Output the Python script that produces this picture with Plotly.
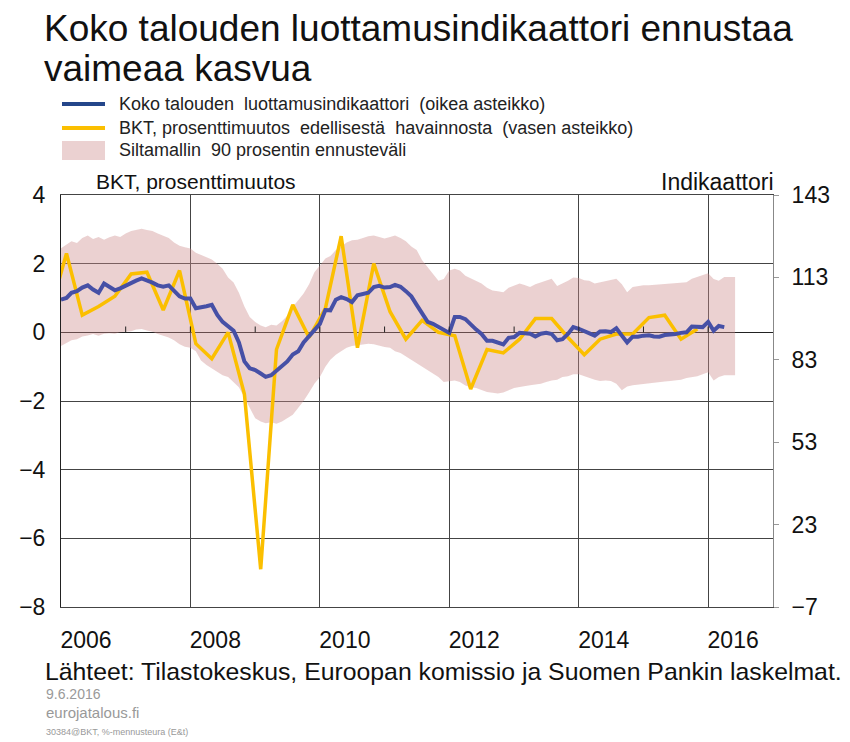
import pandas as pd
import plotly.graph_objects as go

# Koko talouden luottamusindikaattori, kuukausittain 2006/01-2016/04 (oikea asteikko)
indikaattori = [
    104.9, 105.5, 107.4, 108.0, 109.3, 110.1, 108.6, 107.4, 110.8, 109.5, 108.3, 109.0,
    110.1, 110.8, 111.8, 112.6, 112.0, 111.1, 110.1, 109.6, 110.1, 108.0, 106.1, 105.3,
    105.3, 101.8, 102.0, 102.5, 103.0, 99.3, 96.8, 95.1, 93.6, 89.3, 82.4, 79.9,
    79.3, 78.0, 76.8, 77.4, 79.0, 80.5, 82.4, 84.9, 86.1, 89.3, 91.5, 93.6,
    96.1, 101.1, 101.0, 104.9, 105.8, 105.1, 104.0, 106.5, 106.8, 107.4, 109.5, 109.9,
    109.3, 109.5, 110.3, 109.6, 108.0, 106.1, 103.0, 99.9, 96.8, 96.1, 94.9, 93.6,
    92.8, 98.6, 98.6, 97.8, 95.8, 94.0, 92.4, 89.9, 89.9, 89.3, 88.6, 91.0,
    91.3, 92.8, 92.5, 92.5, 91.5, 92.5, 92.8, 92.4, 90.1, 90.5, 92.4, 94.9,
    94.3, 93.4, 92.4, 91.8, 93.3, 93.4, 93.1, 94.5, 91.8, 89.3, 91.4, 91.4,
    91.8, 91.9, 91.5, 91.4, 92.0, 92.1, 92.4, 92.8, 93.0, 95.1, 95.1, 94.9,
    96.8, 93.6, 95.3, 94.9,
]

# BKT, prosenttimuutos edellisestä havainnosta, neljännesvuosittain 2005Q4-2015Q4 (vasen asteikko)
bkt = [
    0.6,
    2.3, 0.5, 0.75, 1.05,
    1.7, 1.75, 0.65, 1.8,
    -0.33, -0.77, 0.0, -1.8,
    -6.9, -0.5, 0.8, -0.15,
    0.7, 2.8, -0.45, 2.0,
    0.6, -0.2, 0.35, 0.0,
    -0.1, -1.65, -0.5, -0.6,
    -0.2, 0.4, 0.4, -0.15,
    -0.65, -0.2, -0.05, -0.05,
    0.43, 0.5, -0.2, 0.1,
]

# Siltamallin 90 prosentin ennusteväli, kuukausittain 2006/01-2016/06 (vasen asteikko)
vali_yla = [
    2.45, 2.55, 2.65, 2.6, 2.75, 2.82, 2.72, 2.78, 2.7, 2.77, 2.82, 2.78,
    2.88, 2.95, 2.98, 3.02, 2.98, 2.95, 2.88, 2.82, 2.75, 2.62, 2.52, 2.48,
    2.44, 2.32, 2.25, 2.18, 2.12, 2.0, 1.85, 1.6, 1.45, 1.15, 0.75, 0.45,
    0.3, 0.2, 0.15, 0.22, 0.2, 0.32, 0.48, 0.74, 0.95, 1.13, 1.4, 1.75,
    1.95, 2.15, 2.22, 2.4, 2.5, 2.62, 2.68, 2.7, 2.75, 2.8, 2.82, 2.77,
    2.73, 2.78, 2.82, 2.75, 2.65, 2.5, 2.4, 2.1, 1.9, 1.72, 1.5, 1.55,
    1.8, 1.85, 1.8, 1.65, 1.58, 1.5, 1.42, 1.3, 1.22, 1.2, 1.17, 1.3,
    1.35, 1.42, 1.38, 1.32, 1.4, 1.46, 1.5, 1.56, 1.35, 1.42, 1.5, 1.6,
    1.58, 1.52, 1.5, 1.42, 1.46, 1.5, 1.52, 1.56, 1.4, 1.17, 1.32, 1.35,
    1.37, 1.37, 1.38, 1.4, 1.42, 1.42, 1.44, 1.45, 1.46, 1.56, 1.62, 1.66,
    1.72, 1.55, 1.5, 1.61, 1.61, 1.61,
]
vali_ala = [
    -0.4, -0.3, -0.23, -0.2, -0.12, -0.09, -0.05, -0.1, -0.04, -0.03, -0.04, 0.0,
    0.01, 0.03, 0.08, 0.1, 0.05, 0.02, -0.05, -0.09, -0.15, -0.23, -0.35, -0.42,
    -0.45, -0.55, -0.82, -0.95, -1.05, -1.15, -1.25, -1.3, -1.45, -1.6, -1.9, -2.2,
    -2.5, -2.6, -2.65, -2.62, -2.66, -2.6, -2.5, -2.4, -2.2, -2.0, -1.75, -1.5,
    -1.3, -1.0, -0.8, -0.65, -0.55, -0.45, -0.4, -0.38, -0.36, -0.33, -0.35, -0.4,
    -0.43, -0.45, -0.55, -0.6, -0.7, -0.8, -0.9, -1.0, -1.1, -1.2, -1.3, -1.45,
    -1.42, -1.4, -1.45, -1.55, -1.6, -1.62, -1.68, -1.74, -1.76, -1.78, -1.75, -1.69,
    -1.62, -1.59, -1.56, -1.54, -1.52, -1.5, -1.45, -1.4, -1.38, -1.3, -1.28, -1.22,
    -1.22, -1.28, -1.32, -1.38, -1.42, -1.4, -1.42, -1.5, -1.69, -1.58, -1.54, -1.52,
    -1.5, -1.49, -1.47, -1.45, -1.43, -1.42, -1.4, -1.38, -1.33, -1.3, -1.28, -1.22,
    -1.16, -1.4, -1.3, -1.25, -1.25, -1.25,
]

vasen_tikit = [4, 2, 0, -2, -4, -6, -8]
vasen_teksti = ["4", "2", "0", "−2", "−4", "−6", "−8"]
oikea_tikit = [143, 113, 83, 53, 23, -7]
oikea_teksti = ["143", "113", "83", "53", "23", "−7"]

selitteet = [
    "Koko talouden  luottamusindikaattori  (oikea asteikko)",
    "BKT, prosenttimuutos  edellisestä  havainnosta  (vasen asteikko)",
    "Siltamallin  90 prosentin ennusteväli",
]

kk_ind = pd.date_range("2006-01-01", periods=len(indikaattori), freq="MS")
kk_vali = pd.date_range("2006-01-01", periods=len(vali_yla), freq="MS")
nelj_bkt = pd.date_range("2005-11-01", periods=len(bkt), freq="3MS")

SININEN = "#4650a6"
SININEN_TUMMA = "#24468a"
KELTAINEN = "#fbbf00"
VALI = "rgba(205,140,140,0.40)"
FONTTI = "Liberation Sans, Arial, sans-serif"

# sivun body-marginaali (8 px) huomioidaan, jotta kuva osuu 850x742-ikkunaan
OFS = 8
W, H = 850 - OFS, 742 - OFS
L, R, T, B = 61 - OFS, 77, 195 - OFS, 135
PW, PH = W - L - R, H - T - B


def px_x(px):
    return (px - OFS - L) / PW


def px_y(py):
    return (H - B - (py - OFS)) / PH


fig = go.Figure()
fig.add_trace(go.Scatter(x=kk_vali, y=vali_yla, mode="lines", line=dict(width=0),
                         showlegend=False, hoverinfo="skip"))
fig.add_trace(go.Scatter(x=kk_vali, y=vali_ala, mode="lines", line=dict(width=0),
                         fill="tonexty", fillcolor=VALI, name=selitteet[2], showlegend=False))
fig.add_trace(go.Scatter(x=nelj_bkt, y=bkt, mode="lines",
                         line=dict(color=KELTAINEN, width=3.5),
                         name=selitteet[1], showlegend=False))
fig.add_trace(go.Scatter(x=kk_ind, y=indikaattori, mode="lines", yaxis="y2",
                         line=dict(color=SININEN, width=4),
                         name=selitteet[0], showlegend=False))

# pienet vuosimerkit nollaviivalla
for v in range(2007, 2017):
    fig.add_shape(type="line", x0=f"{v}-01-01", x1=f"{v}-01-01", y0=0, y1=0.17,
                  xref="x", yref="y", line=dict(color="#222", width=1))

# selite käsin: viivat / laatikko + tekstit
fig.add_shape(type="line", xref="paper", yref="paper", x0=px_x(62), x1=px_x(105),
              y0=px_y(104), y1=px_y(104), line=dict(color=SININEN_TUMMA, width=4))
fig.add_shape(type="line", xref="paper", yref="paper", x0=px_x(62), x1=px_x(105),
              y0=px_y(128), y1=px_y(128), line=dict(color=KELTAINEN, width=4))
fig.add_shape(type="rect", xref="paper", yref="paper", x0=px_x(62), x1=px_x(105),
              y0=px_y(160), y1=px_y(141), line=dict(width=0), fillcolor=VALI)
for teksti, y in zip(selitteet, [104, 128, 150]):
    fig.add_annotation(text=teksti, x=px_x(117), y=px_y(y), xref="paper", yref="paper",
                       xanchor="left", yanchor="middle", showarrow=False,
                       font=dict(size=18, color="#222", family=FONTTI))

fig.update_layout(
    width=W, height=H,
    margin=dict(l=L, r=R, t=T, b=B, autoexpand=False),
    paper_bgcolor="white", plot_bgcolor="white",
    font=dict(family=FONTTI, color="#111", size=17),
    showlegend=False,
    xaxis=dict(type="date", range=["2006-01-01", "2017-01-01"], automargin=False,
               tick0="2006-01-01", dtick="M24", tickformat="%Y",
               showgrid=True, gridcolor="#444", gridwidth=1,
               showline=True, linecolor="#444", linewidth=1, mirror=True,
               ticks="", tickfont=dict(size=23, color="#111"),
               ticklabelshift=25, ticklabelstandoff=12, zeroline=False),
    yaxis=dict(range=[-8, 4], tickvals=vasen_tikit, ticktext=vasen_teksti, automargin=False,
               showgrid=True, gridcolor="#444", gridwidth=1,
               zeroline=True, zerolinecolor="#222", zerolinewidth=1,
               showline=True, linecolor="#222", linewidth=1, mirror=True,
               ticks="", tickfont=dict(size=23, color="#111"), ticklabelstandoff=10),
    yaxis2=dict(range=[-7, 143], tickvals=oikea_tikit, ticktext=oikea_teksti, automargin=False,
                overlaying="y", side="right", showgrid=False, zeroline=False,
                showline=True, linecolor="#888", linewidth=1,
                ticks="outside", ticklen=5, tickcolor="#999",
                tickfont=dict(size=23, color="#111"), ticklabelstandoff=8),
)

tekstit = [
    ("Koko talouden luottamusindikaattori ennustaa", 42, 28, 37, "#111", "left"),
    ("vaimeaa kasvua", 42, 69, 37, "#111", "left"),
    ("BKT, prosenttimuutos", 94, 182, 21, "#111", "left"),
    ("Indikaattori", 776, 182, 23, "#111", "right"),
    ("Lähteet: Tilastokeskus, Euroopan komissio ja Suomen Pankin laskelmat.", 43, 671, 24.8, "#111", "left"),
    ("9.6.2016", 44, 694, 14, "#999", "left"),
    ("eurojatalous.fi", 44, 712, 15, "#999", "left"),
    ("30384@BKT, %-mennusteura (E&t)", 44, 732, 9, "#999", "left"),
]
for teksti, x, y, koko, vari, kohdistus in tekstit:
    fig.add_annotation(text=teksti, x=px_x(x), y=px_y(y), xref="paper", yref="paper",
                       xanchor=kohdistus, yanchor="middle", showarrow=False,
                       font=dict(size=koko, color=vari, family=FONTTI))

fig.write_html("out.html")
